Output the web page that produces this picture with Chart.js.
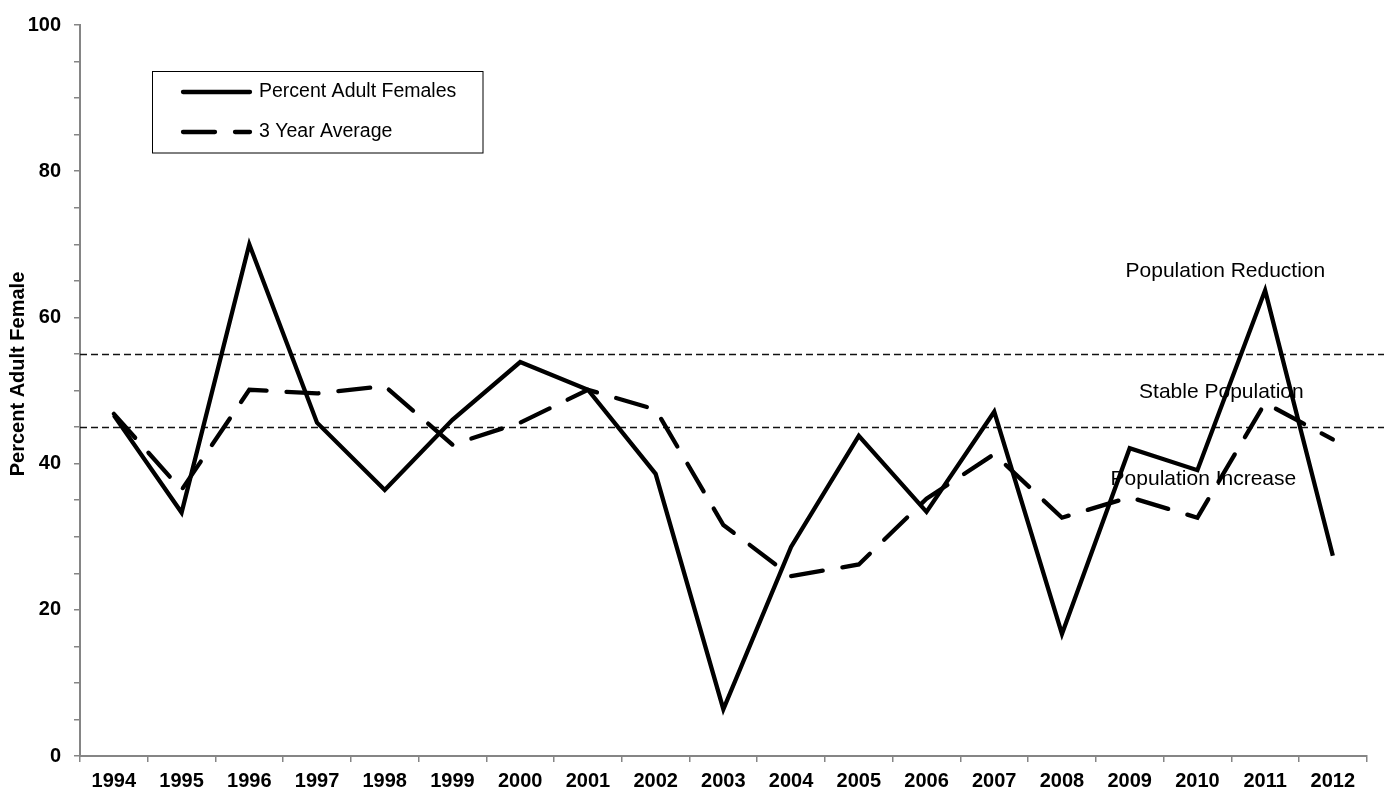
<!DOCTYPE html>
<html lang="en">
<head>
    <meta charset="UTF-8">
    <title>Percent Adult Female</title>
    <script src="https://cdn.jsdelivr.net/npm/chart.js"></script>
    <style>
        body { margin: 0; background: #fff; }
    </style>
</head>
<body>
    <canvas id="femaleChart" width="1390" height="794"></canvas>

    <script>
        // data
        const years = ['1994', '1995', '1996', '1997', '1998', '1999', '2000', '2001', '2002', '2003',
                       '2004', '2005', '2006', '2007', '2008', '2009', '2010', '2011', '2012'];
        const percentFemales = [46.6, 33.3, 70.0, 45.6, 36.4, 46.0, 53.9, 50.1, 38.6, 6.4,
                                28.6, 43.8, 33.4, 47.1, 16.7, 42.1, 39.1, 63.7, 27.4];
        const threeYearAvg = [46.8, 36.4, 50.1, 49.6, 50.6, 42.6, 45.6, 50.1, 47.4, 31.6,
                              24.6, 26.2, 35.2, 41.3, 32.6, 35.4, 32.6, 48.3, 43.3];
        const thresholds = [55, 45];
        const zoneLabels = ['Population Reduction', 'Stable Population', 'Population Increase'];
        const zoneLabelValues = [66.3, 49.7, 37.9];

        const FONT = '"Liberation Sans", Arial, sans-serif';
        const AXIS_GREY = '#858585';

        // dashed threshold lines, zone labels and y title drawn under the series
        const backdrop = {
            id: 'backdrop',
            beforeDatasetsDraw(chart) {
                const ctx = chart.ctx;
                const x = chart.scales.x, y = chart.scales.y;
                ctx.save();
                ctx.strokeStyle = '#111';
                ctx.lineWidth = 1.6;
                ctx.setLineDash([7, 4]);
                thresholds.forEach(v => {
                    const py = Math.round(y.getPixelForValue(v)) + 0.5;
                    ctx.beginPath();
                    ctx.moveTo(x.left, py);
                    ctx.lineTo(1384, py);
                    ctx.stroke();
                });
                ctx.setLineDash([]);

                ctx.fillStyle = '#000';
                ctx.font = '21px ' + FONT;
                ctx.textAlign = 'center';
                ctx.textBaseline = 'middle';
                const base = x.getPixelForValue(16);
                const shifts = [28, 24, 6];
                zoneLabels.forEach((t, i) => {
                    ctx.fillText(t, base + shifts[i], y.getPixelForValue(zoneLabelValues[i]));
                });

                // y axis title
                ctx.font = 'bold 20px ' + FONT;
                ctx.translate(18, 374);
                ctx.rotate(-Math.PI / 2);
                ctx.fillText('Percent Adult Female', 0, 0);
                ctx.restore();
            },
            afterDraw(chart) {
                // boxed legend, top left
                const ctx = chart.ctx;
                ctx.save();
                ctx.strokeStyle = '#000';
                ctx.lineWidth = 1;
                ctx.strokeRect(152.5, 71.5, 330.5, 81.5);
                ctx.lineWidth = 4.3;
                ctx.lineCap = 'round';
                ctx.strokeStyle = '#000';
                const rows = [92, 132];
                chart.data.datasets.forEach((ds, i) => {
                    ctx.setLineDash(ds.borderDash || []);
                    ctx.beginPath();
                    ctx.moveTo(183, rows[i]);
                    ctx.lineTo(250, rows[i]);
                    ctx.stroke();
                });
                ctx.setLineDash([]);
                ctx.fillStyle = '#000';
                ctx.font = '19.5px ' + FONT;
                ctx.textAlign = 'left';
                ctx.textBaseline = 'middle';
                chart.data.datasets.forEach((ds, i) => {
                    ctx.fillText(ds.label, 259, rows[i]);
                });
                ctx.restore();
            }
        };

        new Chart(document.getElementById('femaleChart'), {
            type: 'line',
            data: {
                labels: years,
                datasets: [
                    {
                        label: 'Percent Adult Females',
                        data: percentFemales,
                        borderColor: '#000',
                        borderWidth: 4.3,
                        pointRadius: 0,
                        tension: 0,
                        borderJoinStyle: 'miter',
                    },
                    {
                        label: '3 Year Average',
                        data: threeYearAvg,
                        borderColor: '#000',
                        borderWidth: 4.3,
                        borderDash: [32, 20],
                        borderCapStyle: 'round',
                        pointRadius: 0,
                        tension: 0,
                    },
                ],
            },
            options: {
                responsive: false,
                animation: false,
                layout: { padding: { top: 19.5, right: 23.3, left: 0, bottom: 0 } },
                plugins: {
                    legend: { display: false },
                    tooltip: { enabled: false },
                },
                scales: {
                    x: {
                        offset: true,
                        grid: { offset: true, drawOnChartArea: false, tickLength: 6, color: AXIS_GREY, lineWidth: 1.5 },
                        border: { color: AXIS_GREY, width: 2 },
                        ticks: { color: '#000', font: { family: FONT, size: 20, weight: 'bold' }, padding: 7, maxRotation: 0, autoSkip: false },
                        afterFit: (s) => { s.height = 38; },
                    },
                    y: {
                        min: 0,
                        max: 100,
                        grid: { drawOnChartArea: false, tickLength: 6, color: AXIS_GREY, lineWidth: 1.5 },
                        border: { color: AXIS_GREY, width: 2 },
                        ticks: {
                            stepSize: 5,
                            autoSkip: false,
                            color: '#000',
                            padding: 13,
                            font: { family: FONT, size: 20, weight: 'bold' },
                            callback: (v) => (v % 20 === 0 ? v : ''),
                        },
                        afterFit: (s) => { s.width = 80; },
                    },
                },
            },
            plugins: [backdrop],
        });
    </script>
</body>
</html>
